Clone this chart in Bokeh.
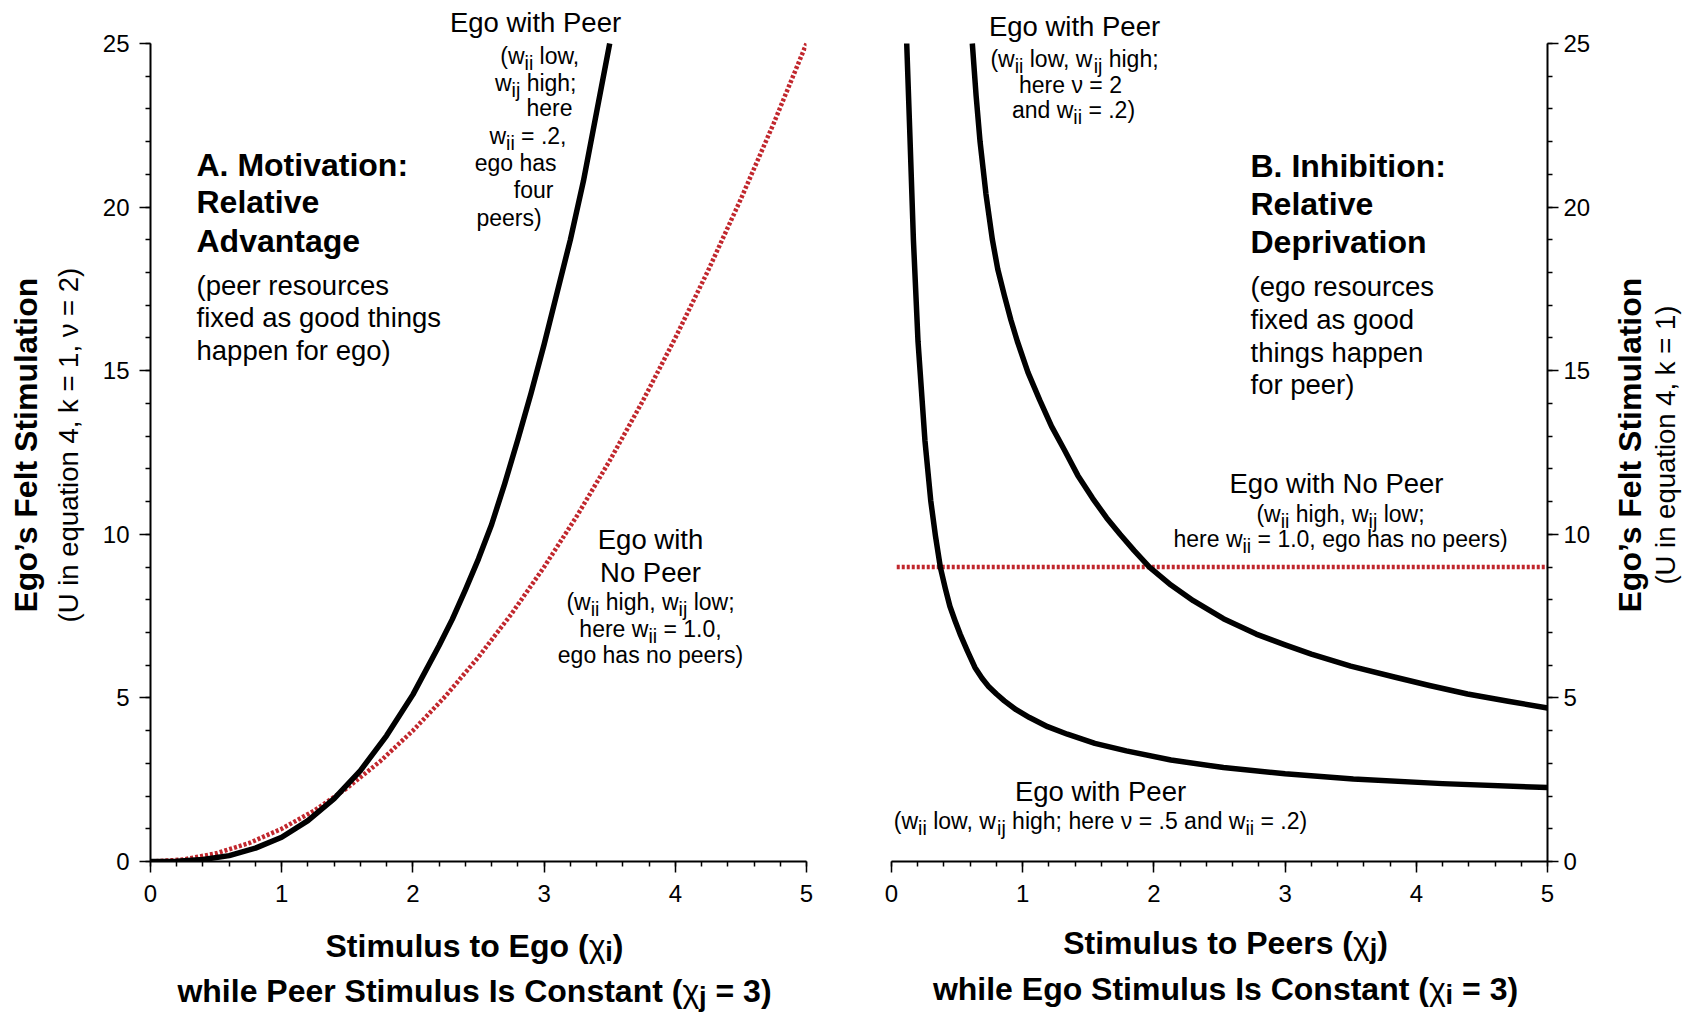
from bokeh.plotting import figure
from bokeh.models import Label, Range1d, SingleIntervalTicker
from bokeh.layouts import row, column
from bokeh.embed import file_html
from bokeh.resources import INLINE
import math

# ---------------- data ----------------
# Panel A: stimulus to ego (x_i), peer stimulus fixed at 3
a_peer_x = [0, 0.2, 0.4, 0.6, 0.8, 1.0, 1.2, 1.4, 1.6, 1.8, 2.0, 2.2, 2.3, 2.4, 2.5, 2.6, 2.7,
            2.8, 2.9, 3.0, 3.1, 3.2, 3.3, 3.4, 3.5]
a_peer_y = [0, 0.01, 0.06, 0.18, 0.41, 0.74, 1.25, 1.92, 2.78, 3.85, 5.1, 6.6, 7.4, 8.3, 9.25, 10.3, 11.55,
            12.9, 14.3, 15.8, 17.4, 19.0, 20.8, 22.9, 25.0]
a_nopeer_x = [0, 0.25, 0.5, 0.75, 1.0, 1.25, 1.5, 1.75, 2.0, 2.25, 2.5, 2.75, 3.0,
              3.25, 3.5, 3.75, 4.0, 4.25, 4.5, 4.75, 5.0]
a_nopeer_y = [0, 0.06, 0.25, 0.56, 1.0, 1.56, 2.25, 3.06, 4.0, 5.06, 6.25, 7.56, 9.0,
              10.56, 12.25, 14.06, 16.0, 18.06, 20.25, 22.56, 25.0]

# Panel B: stimulus to peers (x_j), ego stimulus fixed at 3
b_peer2_x = [0.616, 0.645, 0.675, 0.72, 0.769, 0.81, 0.86, 0.91, 0.959, 1.04, 1.13, 1.22, 1.315,
             1.42, 1.533, 1.64, 1.742, 1.85, 1.966, 2.13, 2.30, 2.53, 2.78, 3.0, 3.20, 3.5, 3.84,
             4.1, 4.39, 4.7, 5.0]
b_peer2_y = [25.0, 23.4, 22.0, 20.4, 19.0, 18.1, 17.3, 16.55, 15.9, 14.95, 14.1, 13.3, 12.6,
             11.8, 11.1, 10.5, 10.0, 9.5, 9.0, 8.45, 7.97, 7.42, 6.95, 6.62, 6.34, 5.97, 5.63,
             5.38, 5.12, 4.9, 4.69]
b_peer05_x = [0.116, 0.141, 0.167, 0.202, 0.255, 0.299, 0.335, 0.372, 0.41, 0.445, 0.485, 0.523,
              0.58, 0.636, 0.69, 0.74, 0.8, 0.86, 0.95, 1.052, 1.19, 1.341, 1.55, 1.79, 2.13,
              2.53, 3.0, 3.52, 4.2, 5.0]
b_peer05_y = [25.0, 22.1, 19.0, 15.9, 12.86, 11.03, 9.95, 9.0, 8.35, 7.8, 7.35, 6.95,
              6.42, 5.93, 5.6, 5.35, 5.12, 4.91, 4.64, 4.40, 4.12, 3.89, 3.61, 3.38, 3.1,
              2.87, 2.68, 2.52, 2.38, 2.26]
b_nopeer_x = [0.04, 5.0]
b_nopeer_y = [9.0, 9.0]

FONT = "Liberation Sans"
RED = "#c1272d"

# ---------------- geometry (page pixels, page origin at 0,0) ----------------
FW = 656
Y0, Y25 = 861, 43            # page y of y=0 and y=25
EXT_H = Y0                   # frame runs from the page top to y=0
Y_END = 25.0 * EXT_H / (Y0 - Y25)
PX_PER_Y = (Y0 - Y25) / 25.0
PX_PER_X = FW / 5.0
A_BL, A_BR = 55, 40
B_BL, B_BR = 45, 50
BOT = 55
LW = 150 - A_BL                          # left strip width
LEFT_A = LW + A_BL                       # 150
LEFT_B = LEFT_A + FW + A_BR + B_BL       # 891
R0 = LEFT_B + FW + B_BR                  # right strip start
RW = 1685 - R0
ROW_H = EXT_H + BOT
BH = 1015 - ROW_H

# Arial / Liberation Sans advance widths (1/1000 em)
_REG = {' ': 278, '(': 333, ')': 333, ',': 278, '.': 278, ';': 278, ':': 278, '=': 584,
        'E': 667, 'P': 667, 'N': 722, 'U': 722, 'a': 556, 'c': 500, 'd': 556, 'e': 556,
        'f': 278, 'g': 556, 'h': 556, 'i': 222, 'j': 222, 'k': 500, 'l': 222, 'n': 556,
        'o': 556, 'p': 556, 'r': 333, 's': 500, 't': 278, 'u': 556, 'w': 722, 'x': 500,
        'ν': 500, 'χ': 520}
_BOLD = {' ': 278, '(': 333, ')': 333, '=': 584, 'C': 722, 'E': 667, 'I': 278, 'P': 667,
         'S': 667, 'a': 556, 'e': 556, 'g': 611, 'h': 611, 'i': 278, 'j': 278, 'l': 278,
         'm': 889, 'n': 611, 'o': 611, 'r': 389, 's': 556, 't': 333, 'u': 611, 'w': 778}
SUB = 0.85


def tw(s, size, bold):
    tab = _BOLD if bold else _REG
    return sum(tab.get(ch, 556) for ch in s) / 1000.0 * size


def fig_panel(side, bl, br):
    p = figure(frame_width=FW, frame_height=EXT_H,
               x_range=Range1d(0, 5), y_range=Range1d(0, Y_END),
               output_backend="svg", toolbar_location=None,
               y_axis_location=side,
               min_border_top=0, min_border_bottom=BOT,
               min_border_left=bl, min_border_right=br,
               background_fill_color="white", border_fill_color="white")
    p.outline_line_color = None
    p.grid.visible = False
    p.xaxis.ticker = SingleIntervalTicker(interval=1, num_minor_ticks=5)
    p.yaxis.ticker = SingleIntervalTicker(interval=5, num_minor_ticks=5)
    p.yaxis.bounds = (0, 25)
    for ax in (p.xaxis[0], p.yaxis[0]):
        ax.axis_line_width = 2
        ax.axis_line_color = "black"
        ax.major_tick_line_width = 1.5
        ax.minor_tick_line_width = 1.5
        ax.major_tick_line_color = "black"
        ax.minor_tick_line_color = "black"
        ax.major_tick_in = 0
        ax.major_tick_out = 11
        ax.minor_tick_in = 0
        ax.minor_tick_out = 5
        ax.major_label_text_font = FONT
        ax.major_label_text_font_size = "24px"
        ax.major_label_text_color = "black"
    p.xaxis.major_label_standoff = 12
    p.yaxis.major_label_standoff = 10 if side == "left" else 5
    return p


def fig_strip(w, h):
    p = figure(width=w, height=h, x_range=Range1d(0, w), y_range=Range1d(h, 0),
               output_backend="svg", toolbar_location=None,
               x_axis_type=None, y_axis_type=None, min_border=0,
               background_fill_color="white", border_fill_color="white")
    p.outline_line_color = None
    p.grid.visible = False
    return p


class Writer:
    """Places texts given in page pixels onto a figure."""
    def __init__(self, p, x0, y0, panel):
        self.p, self.x0, self.y0, self.panel = p, x0, y0, panel

    def conv(self, X, Y):
        if self.panel:
            return (X - self.x0) / PX_PER_X, (Y0 - Y) / PX_PER_Y
        return X - self.x0, Y - self.y0

    def put(self, X, Y, text, size, bold=False, align="left", angle=0.0):
        x, y = self.conv(X, Y)
        style = "bold" if bold else "normal"
        self.p.add_layout(Label(x=x, y=y, text=text, text_font=FONT,
                                text_font_size=f"{size:.1f}px", text_font_style=style,
                                text_align=align, text_baseline="middle",
                                text_color="black", angle=angle))

    def rich(self, X, Y, segs, size, bold=False, align="left", sub_dy=0.305):
        # segs: list of (text, kind) with kind "n" normal, "s" subscript, "x" plain-weight symbol
        parts = []
        for t, kind in segs:
            s = size * SUB if kind == "s" else size
            b = bold and kind != "x"
            parts.append((t, kind, s, b, tw(t, s, b)))
        total = sum(w for *_, w in parts)
        x = X - (total / 2 if align == "center" else total if align == "right" else 0)
        for t, kind, s, b, w in parts:
            dy = sub_dy * size if kind == "s" else 0.0
            core = t.lstrip(" ")
            lead = tw(t[:len(t) - len(core)], s, b)
            self.put(x + lead, Y + dy, core, s, bold=b)
            x += w


S_BIG, S_BODY, S_SMALL, S_BOLD = 27.5, 27.5, 23, 32

# ---------------- Panel A ----------------
pa = fig_panel("left", A_BL, A_BR)
pa.line(a_nopeer_x, a_nopeer_y, line_color=RED, line_width=4.5, line_dash="3 2")
pa.line(a_peer_x, a_peer_y, line_color="black", line_width=5.5, line_join="round")

A = Writer(pa, LEFT_A, 0, True)
A.put(535, 22, "Ego with Peer", S_BIG, align="center")
A.rich(580, 55, [("(w", "n"), ("ii", "s"), (" low,", "n")], S_SMALL, align="right")
A.rich(576, 82, [("w", "n"), ("ij", "s"), (" high;", "n")], S_SMALL, align="right")
A.put(572, 107, "here", S_SMALL, align="right")
A.rich(566, 135, [("w", "n"), ("ii", "s"), (" = .2,", "n")], S_SMALL, align="right")
A.put(556, 162, "ego has", S_SMALL, align="right")
A.put(553, 189, "four", S_SMALL, align="right")
A.put(476, 217, "peers)", S_SMALL)

A.put(196, 164, "A. Motivation:", S_BOLD, bold=True)
A.put(196, 201, "Relative", S_BOLD, bold=True)
A.put(196, 240, "Advantage", S_BOLD, bold=True)
A.put(196, 285, "(peer resources", S_BODY)
A.put(196, 317, "fixed as good things", S_BODY)
A.put(196, 350, "happen for ego)", S_BODY)

A.put(650, 539, "Ego with", S_BIG, align="center")
A.put(650, 572, "No Peer", S_BIG, align="center")
A.rich(650, 601, [("(w", "n"), ("ii", "s"), (" high, w", "n"), ("ij", "s"), (" low;", "n")],
       S_SMALL, align="center")
A.rich(650, 628, [("here w", "n"), ("ii", "s"), (" = 1.0,", "n")], S_SMALL, align="center")
A.put(650, 654, "ego has no peers)", S_SMALL, align="center")

# ---------------- Panel B ----------------
pb = fig_panel("right", B_BL, B_BR)
pb.line(b_nopeer_x, b_nopeer_y, line_color=RED, line_width=4.5, line_dash="3 2")
pb.line(b_peer2_x, b_peer2_y, line_color="black", line_width=5.5, line_join="round")
pb.line(b_peer05_x, b_peer05_y, line_color="black", line_width=5.5, line_join="round")

B = Writer(pb, LEFT_B, 0, True)
B.put(1074, 26, "Ego with Peer", S_BIG, align="center")
B.rich(1074, 58, [("(w", "n"), ("ii", "s"), (" low, w", "n"), ("ij", "s"), (" high;", "n")],
       S_SMALL, align="center")
B.put(1070, 84, "here ν = 2", S_SMALL, align="center")
B.rich(1073, 109, [("and w", "n"), ("ii", "s"), (" = .2)", "n")], S_SMALL, align="center")

B.put(1250, 165, "B. Inhibition:", S_BOLD, bold=True)
B.put(1250, 203, "Relative", S_BOLD, bold=True)
B.put(1250, 241, "Deprivation", S_BOLD, bold=True)
B.put(1250, 286, "(ego resources", S_BODY)
B.put(1250, 319, "fixed as good", S_BODY)
B.put(1250, 352, "things happen", S_BODY)
B.put(1250, 384, "for peer)", S_BODY)

B.put(1336, 483, "Ego with No Peer", S_BIG, align="center")
B.rich(1340, 513, [("(w", "n"), ("ii", "s"), (" high, w", "n"), ("ij", "s"), (" low;", "n")],
       S_SMALL, align="center")
B.rich(1340, 538, [("here w", "n"), ("ii", "s"), (" = 1.0, ego has no peers)", "n")],
       S_SMALL, align="center")

B.put(1100, 791, "Ego with Peer", S_BIG, align="center")
B.rich(1100, 820, [("(w", "n"), ("ii", "s"), (" low, w", "n"), ("ij", "s"),
                   (" high; here ν = .5 and w", "n"), ("ii", "s"), (" = .2)", "n")],
       S_SMALL, align="center")

# ---------------- side and bottom title strips ----------------
ROT_DY = 27   # correction for rotated-label anchoring
lt = fig_strip(LW, ROW_H)
L = Writer(lt, 0, 0, False)
L.put(25, 446 + ROT_DY, "Ego’s Felt Stimulation", S_BOLD, bold=True, align="center", angle=math.pi / 2)
L.put(68, 446 + ROT_DY, "(U in equation 4, k = 1, ν = 2)", S_BODY, align="center", angle=math.pi / 2)

rt = fig_strip(RW, ROW_H)
R = Writer(rt, R0, 0, False)
R.put(1629, 446 + ROT_DY, "Ego’s Felt Stimulation", S_BOLD, bold=True, align="center", angle=math.pi / 2)
R.put(1665, 446 + ROT_DY, "(U in equation 4, k = 1)", S_BODY, align="center", angle=math.pi / 2)

bt = fig_strip(1685, BH)
BT = Writer(bt, 0, ROW_H, False)
BT.rich(474, 945, [("Stimulus to Ego (", "n"), ("χ", "x"), ("i", "s"), (")", "n")],
        S_BOLD, bold=True, align="center", sub_dy=0.2)
BT.rich(474, 990, [("while Peer Stimulus Is Constant (", "n"), ("χ", "x"), ("j", "s"), (" = 3)", "n")],
        S_BOLD, bold=True, align="center", sub_dy=0.2)
BT.rich(1225, 942, [("Stimulus to Peers (", "n"), ("χ", "x"), ("j", "s"), (")", "n")],
        S_BOLD, bold=True, align="center", sub_dy=0.2)
BT.rich(1225, 988, [("while Ego Stimulus Is Constant (", "n"), ("χ", "x"), ("i", "s"), (" = 3)", "n")],
        S_BOLD, bold=True, align="center", sub_dy=0.2)

layout = column(row(lt, pa, pb, rt), bt)
open("out.html", "w").write(file_html(layout, INLINE))
